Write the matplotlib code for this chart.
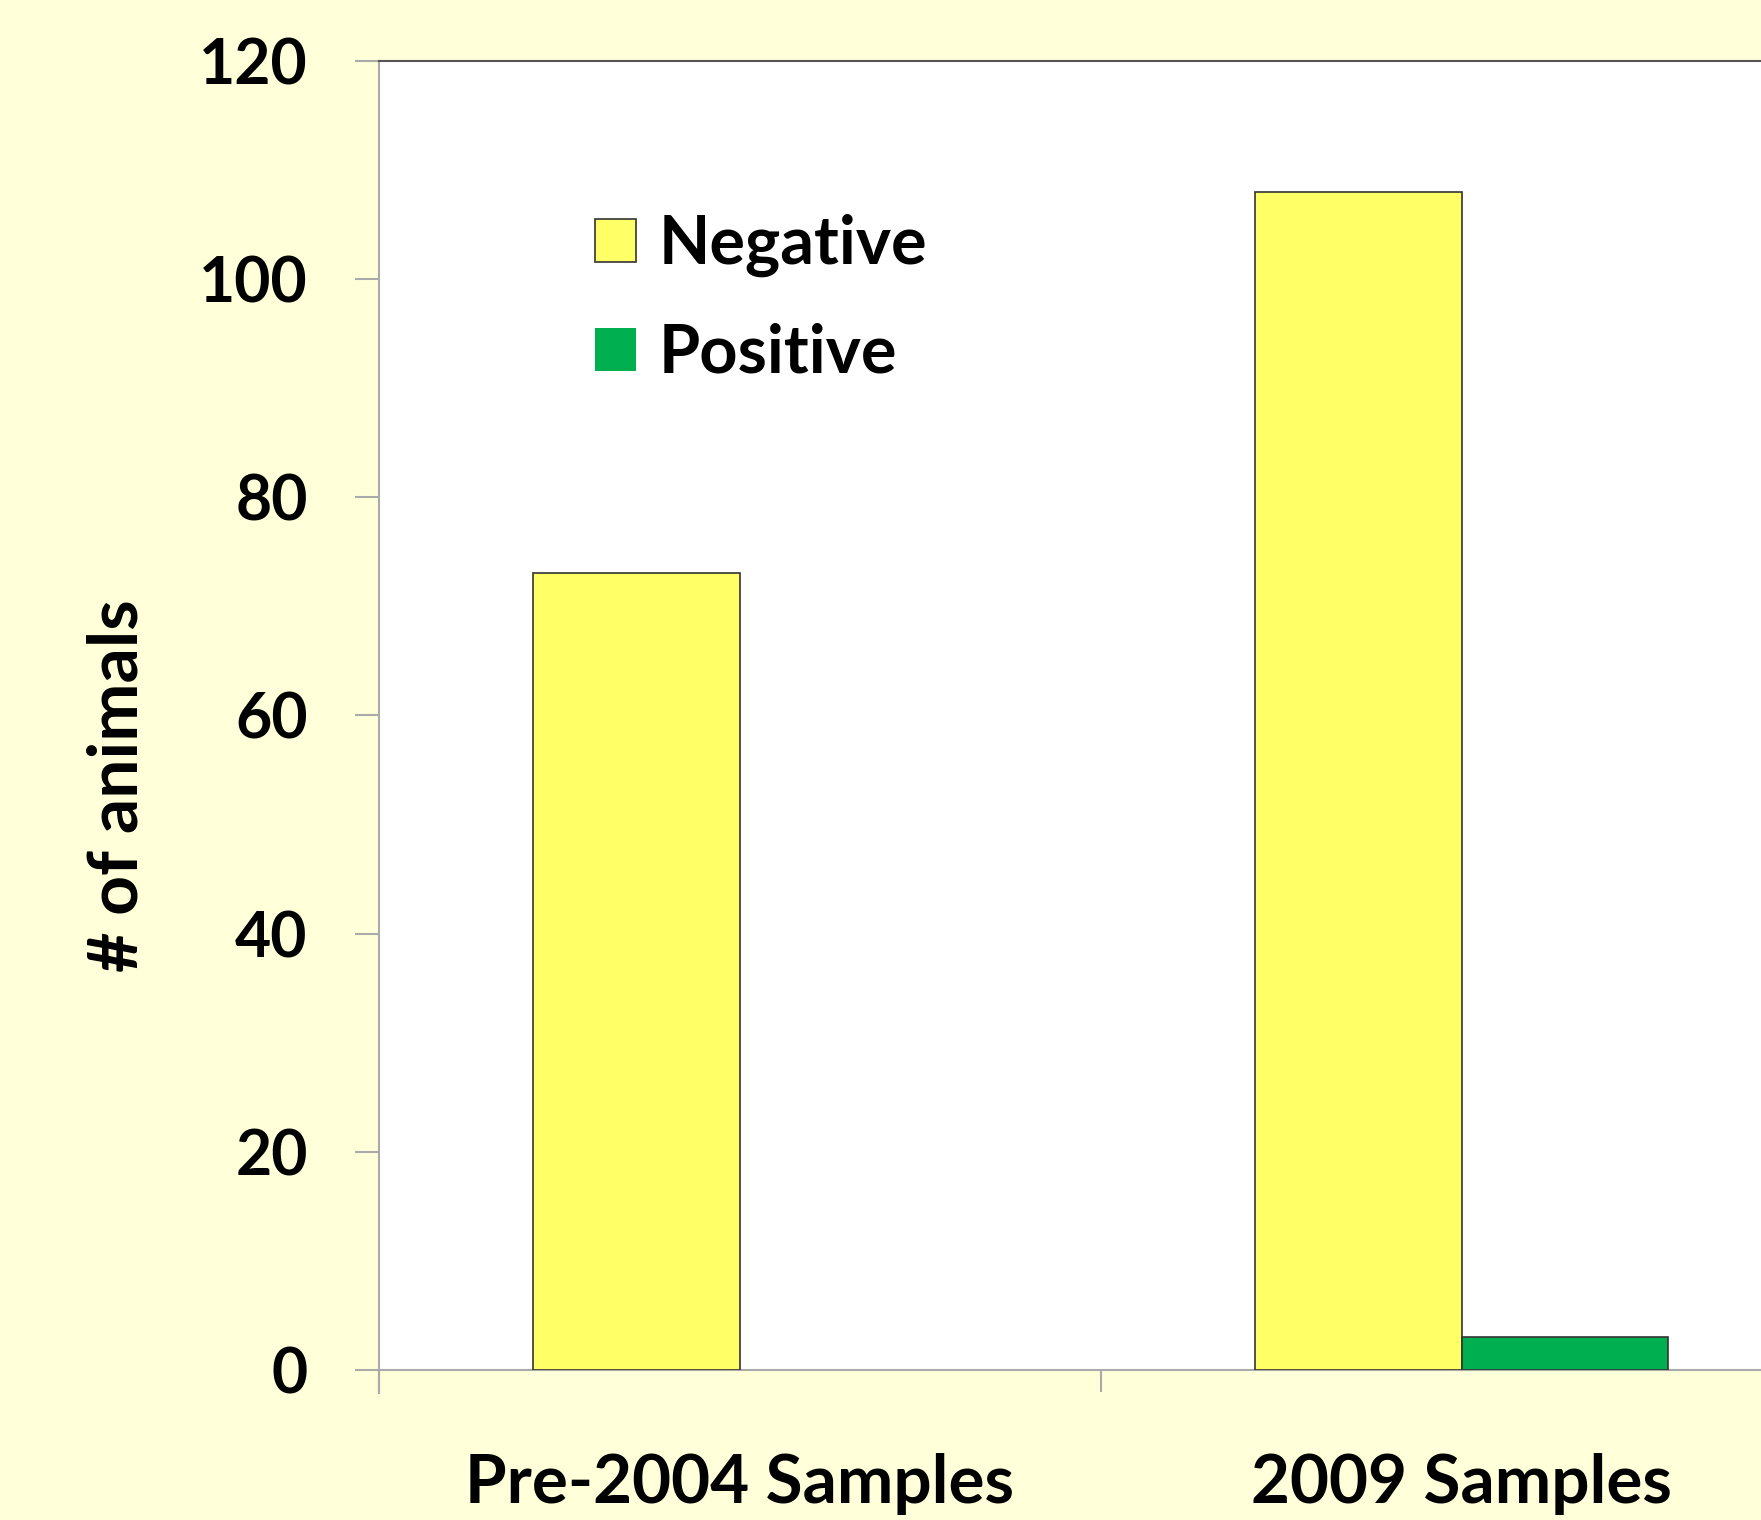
import numpy as np
import matplotlib
matplotlib.use('Agg')
import matplotlib.pyplot as plt

# data
categories = ['Pre-2004 Samples', '2009 Samples']
negative = [73, 108]
positive = [0, 3]
series_names = ['Negative', 'Positive']
yticks = [0, 20, 40, 60, 80, 100, 120]

plt.rcParams['font.family'] = ['Lato', 'DejaVu Sans']
plt.rcParams['font.weight'] = 'bold'

bg = '#FFFFD9'
W, H = 1761, 1520
fig = plt.figure(figsize=(W / 100, H / 100), dpi=100, facecolor=bg)

# plot area runs off the right edge of the picture, like the reference
left, right = 378.5, 1822.6
top, bottom = 60.6, 1370
ax = fig.add_axes([left / W, 1 - bottom / H, (right - left) / W, (bottom - top) / H])
ax.set_facecolor('white')

x = np.arange(len(categories))
w = 0.286
b1 = ax.bar(x - w / 2, negative, w, color='#FFFF66', edgecolor='#333333', linewidth=1.2,
            label=series_names[0], zorder=3)
b2 = ax.bar(x + w / 2, positive, w, color='#00B050', edgecolor='#333333', linewidth=1.2,
            label=series_names[1], zorder=3)
# empty bars leave no outline
for bars in (b1, b2):
    for p in bars:
        if p.get_height() == 0:
            p.set_linewidth(0)

ax.set_xlim(-0.5, len(categories) - 0.5)
ax.set_ylim(0, 120)

# axes styling
ax.spines['right'].set_visible(False)
ax.spines['top'].set_color('#555555')
ax.spines['top'].set_linewidth(1.5)
ax.spines['left'].set_color('#aaaaaa')
ax.spines['bottom'].set_color('#aaaaaa')
ax.spines['left'].set_linewidth(1.5)
ax.spines['bottom'].set_linewidth(1.5)
ax.spines['left'].set_bounds(-2.1, 120)  # runs below the zero line

ax.set_yticks(yticks)
ax.tick_params(axis='y', length=17, width=1.5, color='#aaaaaa', pad=34,
               labelsize=45, labelcolor='black')

ax.set_xticks(x)
ax.set_xticklabels(categories)
ax.tick_params(axis='x', length=0, pad=60, labelsize=48.5)
ax.set_xticks(np.arange(len(categories) + 1) - 0.5, minor=True)
ax.tick_params(axis='x', which='minor', length=16, width=1.5, color='#aaaaaa')
for lab in ax.get_xticklabels() + ax.get_yticklabels():
    lab.set_fontweight('bold')

fig.text(118 / W, 1 - 786 / H, '# of animals', rotation=90, ha='center', va='center',
         fontsize=50, fontweight='bold')

leg = ax.legend(loc='upper left', bbox_to_anchor=(535 / W, 1 - 154 / H),
                bbox_transform=fig.transFigure, frameon=False,
                prop={'size': 48, 'weight': 'bold'}, handlelength=0.61,
                handleheight=0.61, handletextpad=0.34, labelspacing=0.68)

plt.savefig('out.png', dpi=100, facecolor=bg)
